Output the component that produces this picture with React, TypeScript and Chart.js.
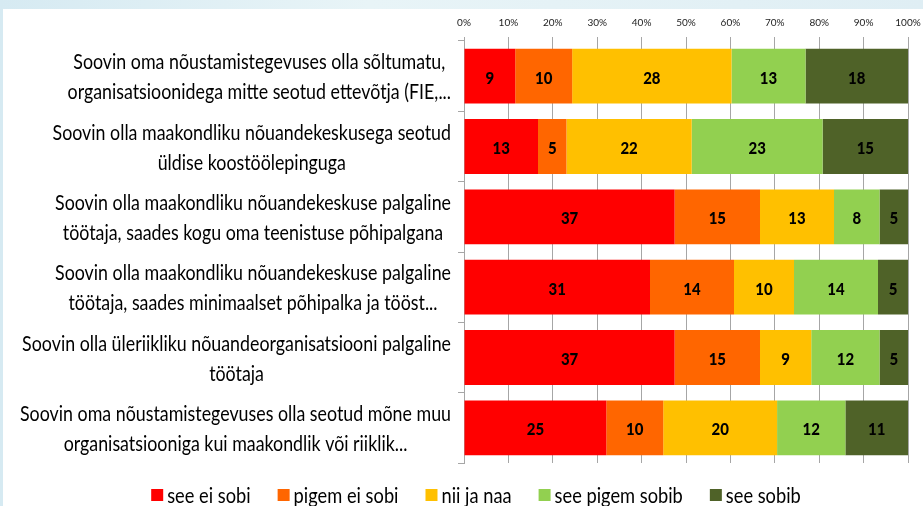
import React, { useEffect, useRef } from "react";
import { Chart, registerables } from "chart.js";

Chart.register(...registerables);

// ---- data ----
const categories: string[][] = [
  ["Soovin oma nõustamistegevuses olla sõltumatu,", "organisatsioonidega mitte seotud ettevõtja (FIE,..."],
  ["Soovin olla maakondliku nõuandekeskusega seotud", "üldise koostöölepinguga"],
  ["Soovin olla maakondliku nõuandekeskuse palgaline", "töötaja, saades kogu oma teenistuse põhipalgana"],
  ["Soovin olla maakondliku nõuandekeskuse palgaline", "töötaja, saades minimaalset põhipalka ja tööst..."],
  ["Soovin olla üleriikliku nõuandeorganisatsiooni palgaline", "töötaja"],
  ["Soovin oma nõustamistegevuses olla seotud mõne muu", "organisatsiooniga kui maakondlik või riiklik..."],
];

const seriesNames = ["see ei sobi", "pigem ei sobi", "nii ja naa", "see pigem sobib", "see sobib"];
const seriesColors = ["#FF0000", "#FF6600", "#FFC000", "#92D050", "#4F6228"];

const seeEiSobi = [9, 13, 37, 31, 37, 25];
const pigemEiSobi = [10, 5, 15, 14, 15, 10];
const niiJaNaa = [28, 22, 13, 10, 9, 20];
const seePigemSobib = [13, 23, 8, 14, 12, 12];
const seeSobib = [18, 15, 5, 5, 5, 11];

const seriesValues = [seeEiSobi, pigemEiSobi, niiJaNaa, seePigemSobib, seeSobib];

const xTicks = [0, 10, 20, 30, 40, 50, 60, 70, 80, 90, 100];

const FONT = "Lato";

export default function App() {
  const ref = useRef<HTMLCanvasElement | null>(null);

  useEffect(() => {
    const canvas = ref.current;
    if (!canvas) return;

    const totals = categories.map((_, i) =>
      seriesValues.reduce((s, arr) => s + arr[i], 0)
    );

    const datasets = seriesValues.map((vals, si) => ({
      label: seriesNames[si],
      data: vals.map((v, i) => (v / totals[i]) * 100),
      backgroundColor: seriesColors[si],
      borderWidth: 0,
      categoryPercentage: 1,
      barPercentage: 0.78,
    }));

    const drawSquashed = (ctx: any, text: string, x: number, y: number, sx: number) => {
      ctx.save();
      ctx.translate(x, y);
      ctx.scale(sx, 1);
      ctx.fillText(text, 0, 0);
      ctx.restore();
    };

    const yLabelPlugin = {
      id: "yLabelPlugin",
      afterDraw(chart: any) {
        const ctx = chart.ctx;
        const yScale = chart.scales.y;
        ctx.save();
        ctx.font = `22px ${FONT}`;
        ctx.fillStyle = "#000";
        ctx.textBaseline = "middle";
        ctx.textAlign = "center";
        const sx = 0.81;
        const right = 451;
        const lh = 30;
        categories.forEach((lines, i) => {
          const cy = yScale.getPixelForValue(i) + 1;
          const maxW = Math.max(...lines.map((l) => ctx.measureText(l).width)) * sx;
          const cx = right - maxW / 2;
          lines.forEach((l, j) => {
            const ly = cy - ((lines.length - 1) * lh) / 2 + j * lh;
            drawSquashed(ctx, l, cx, ly, sx);
          });
        });
        ctx.restore();
      },
    };

    const legendPlugin = {
      id: "customLegend",
      afterDraw(chart: any) {
        const ctx = chart.ctx;
        ctx.save();
        ctx.font = `22px ${FONT}`;
        ctx.textBaseline = "alphabetic";
        ctx.textAlign = "left";
        const sx = 0.83;
        const box = 12;
        const gapText = 4;
        const gapItem = 27;
        const widths = seriesNames.map((n) => ctx.measureText(n).width * sx);
        const total =
          widths.reduce((a, b) => a + b, 0) +
          seriesNames.length * (box + gapText) +
          (seriesNames.length - 1) * gapItem;
        let x = 476 - total / 2;
        const baseline = 503;
        seriesNames.forEach((n, i) => {
          ctx.fillStyle = seriesColors[i];
          ctx.fillRect(x, baseline - 14, box, 12);
          x += box + gapText;
          ctx.fillStyle = "#000";
          drawSquashed(ctx, n, x, baseline, sx);
          x += widths[i] + gapItem;
        });
        ctx.restore();
      },
    };

    const valueLabelPlugin = {
      id: "valueLabelPlugin",
      afterDatasetsDraw(chart: any) {
        const ctx = chart.ctx;
        ctx.save();
        ctx.font = `900 17px ${FONT}`;
        ctx.fillStyle = "#000";
        ctx.textAlign = "center";
        ctx.textBaseline = "middle";
        chart.data.datasets.forEach((_: any, di: number) => {
          const meta = chart.getDatasetMeta(di);
          meta.data.forEach((bar: any, i: number) => {
            const p = bar.getProps(["x", "y", "base"], true);
            drawSquashed(ctx, String(seriesValues[di][i]), (p.x + p.base) / 2, p.y + 2, 0.88);
          });
        });
        ctx.restore();
      },
    };

    const chart = new Chart(canvas, {
      type: "bar",
      data: { labels: categories.map((c) => c.join(" ")), datasets },
      options: {
        indexAxis: "y",
        responsive: false,
        animation: false,
        devicePixelRatio: 1,
        layout: { padding: { left: 0, right: 15, top: 0, bottom: 43 } },
        plugins: {
          tooltip: { enabled: false },
          legend: { display: false },
        },
        scales: {
          x: {
            position: "top",
            stacked: true,
            min: 0,
            max: 100,
            afterBuildTicks: (scale: any) => {
              scale.ticks = xTicks.map((v) => ({ value: v }));
            },
            afterFit: (scale: any) => {
              scale.height = 41;
              scale.paddingLeft = 0;
              scale.paddingRight = 0;
            },
            ticks: {
              callback: (v: any) => `${v}%`,
              color: "#222",
              font: { family: FONT, size: 10 },
              padding: 8,
              maxRotation: 0,
            },
            grid: {
              color: "#a6a6a6",
              lineWidth: 1,
              drawTicks: true,
              tickLength: 4,
            },
            border: { display: false },
          },
          y: {
            stacked: true,
            afterFit: (scale: any) => {
              scale.width = 464;
            },
            ticks: { display: false },
            grid: {
              drawOnChartArea: false,
              drawTicks: true,
              tickLength: 6,
              color: "#a6a6a6",
              offset: true,
            },
            border: { display: true, color: "#a6a6a6" },
          },
        },
      },
      plugins: [valueLabelPlugin, yLabelPlugin, legendPlugin],
    } as any);

    return () => chart.destroy();
  }, []);

  return (
    <div
      style={{
        position: "fixed",
        left: 0,
        top: 0,
        width: 923,
        height: 506,
        background: "linear-gradient(90deg, #d6eaf2 0%, #e8f4f7 40%, #dfeef4 100%)",
        overflow: "hidden",
      }}
    >
      <div
        style={{
          position: "absolute",
          left: 3,
          top: 9,
          right: 0,
          bottom: 0,
          background: "#ffffff",
        }}
      />
      <canvas
        ref={ref}
        width={923}
        height={506}
        style={{ position: "absolute", left: 0, top: 0, width: 923, height: 506 }}
      />
    </div>
  );
}
